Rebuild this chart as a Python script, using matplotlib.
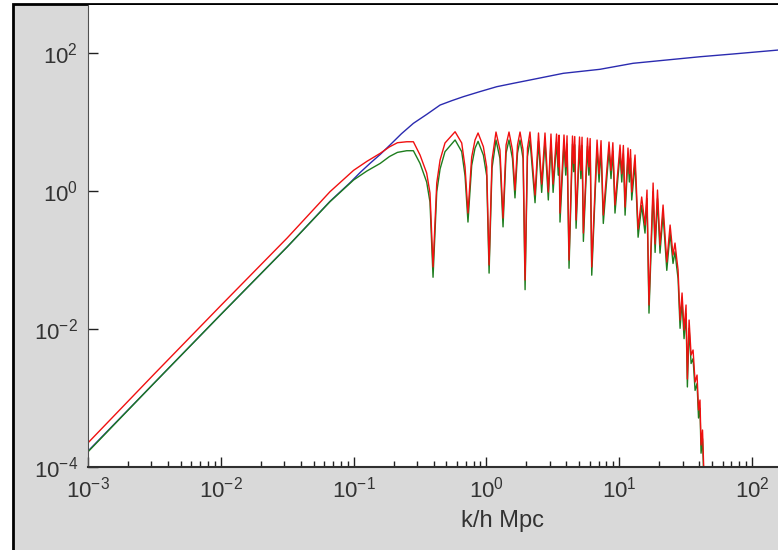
import numpy as np
import matplotlib
matplotlib.use("Agg")
import matplotlib.pyplot as plt
from matplotlib.patches import Rectangle
from matplotlib.ticker import LogLocator, NullLocator

plt.rcParams["font.family"] = ["Liberation Sans", "DejaVu Sans"]
plt.rcParams["mathtext.default"] = "regular"

# values, as log10(k) and log10(P)
log_k_blue = [-3.0, -2.5, -2.0, -1.5, -1.178, -1.027, -0.95, -0.877, -0.80, -0.726,
              -0.64, -0.55, -0.45, -0.349, -0.26, -0.174, -0.05, 0.078, 0.20, 0.328,
              0.579, 0.855, 1.104, 1.358, 1.608, 1.857, 2.196, 2.6, 3.0, 3.25]
log_p_blue = [-3.77, -2.78, -1.79, -0.81, -0.15, 0.12, 0.27, 0.40, 0.53, 0.667,
              0.83, 0.981, 1.11, 1.246, 1.31, 1.367, 1.44, 1.512, 1.56, 1.609,
              1.706, 1.764, 1.851, 1.899, 1.946, 1.986, 2.043, 2.09, 2.13, 2.15]

log_k_osc = [-3.00, -2.50, -2.00, -1.50, -1.178, -1.00, -0.90, -0.80, -0.73, -0.67, -0.60, -0.55, -0.50,
             -0.45, -0.425, -0.402, -0.374, -0.349, -0.312, -0.236, -0.186, -0.161, -0.139,
             -0.111, -0.086, -0.063, -0.023, 0.002, 0.020, 0.042, 0.072, 0.102, 0.125,
             0.148, 0.170, 0.196, 0.215, 0.234, 0.253, 0.276, 0.291, 0.309, 0.328,
             0.366, 0.392, 0.416, 0.441, 0.466, 0.486, 0.502, 0.528, 0.541,
             0.547, 0.554, 0.584, 0.597, 0.607, 0.622, 0.648, 0.657, 0.665, 0.675,
             0.701, 0.711, 0.720, 0.730, 0.761, 0.771, 0.781, 0.793, 0.833, 0.848,
             0.863, 0.880, 0.923, 0.938, 0.952, 0.968, 1.006, 1.019, 1.031, 1.044,
             1.066, 1.076, 1.085, 1.094, 1.119, 1.142, 1.169, 1.194, 1.209, 1.224,
             1.255, 1.270, 1.288, 1.307, 1.330, 1.358, 1.383, 1.405, 1.420, 1.433,
             1.443, 1.458, 1.473, 1.488, 1.503, 1.513, 1.526, 1.541, 1.556, 1.571,
             1.586, 1.597, 1.608, 1.616, 1.627, 1.639, 1.654]
log_p_red = [-3.65, -2.65, -1.66, -0.68, -0.01, 0.30, 0.43, 0.546, 0.64, 0.70, 0.714, 0.714, 0.522,
             0.261, -0.029, -1.101, 0.116, 0.449, 0.696, 0.859, 0.696, 0.348, -0.319,
             0.493, 0.739, 0.841, 0.642, 0.348, -1.072, 0.449, 0.855, 0.594, -0.391,
             0.667, 0.855, 0.594, 0.014, 0.667, 0.855, 0.594, -1.290, 0.623, 0.855,
             -0.058, 0.841, 0.101, 0.841, -0.014, 0.826, 0.101, 0.826, 0.35,
             0.81, -0.319, 0.812, 0.35, 0.80, -1.000, 0.797, 0.40, 0.79, -0.420,
             0.783, 0.30, 0.78, -0.609, 0.768, 0.35, 0.76, -1.101, 0.739, 0.25,
             0.73, -0.348, 0.710, 0.30, 0.70, -0.203, 0.667, 0.25, 0.66, -0.232,
             0.623, 0.25, 0.60, -0.014, 0.522, -0.551, -0.087, -0.493, 0.014, -1.652,
             0.116, -0.768, 0.014, -0.783, -0.203, -1.029, -0.493, -0.928, -0.754, -0.986,
             -1.145, -1.870, -1.478, -2.014, -1.652, -2.725, -1.870, -2.377, -2.304, -2.768,
             -2.667, -3.174, -3.029, -3.681, -3.464, -4.19, -4.77]
log_p_green = [-3.78, -2.78, -1.79, -0.81, -0.155, 0.16, 0.29, 0.40, 0.50, 0.56, 0.584, 0.584, 0.40,
               0.13, -0.16, -1.25, -0.01, 0.32, 0.57, 0.74, 0.57, 0.22, -0.45,
               0.37, 0.62, 0.72, 0.52, 0.22, -1.19, 0.33, 0.74, 0.47, -0.52,
               0.55, 0.74, 0.47, -0.10, 0.55, 0.74, 0.47, -1.43, 0.50, 0.74,
               -0.17, 0.72, -0.02, 0.72, -0.13, 0.71, -0.02, 0.71, 0.23,
               0.69, -0.45, 0.69, 0.23, 0.68, -1.12, 0.68, 0.28, 0.67, -0.54,
               0.66, 0.18, 0.66, -0.73, 0.65, 0.23, 0.64, -1.22, 0.62, 0.13,
               0.61, -0.47, 0.59, 0.18, 0.58, -0.32, 0.55, 0.13, 0.54, -0.35,
               0.50, 0.13, 0.48, -0.13, 0.40, -0.67, -0.21, -0.61, -0.11, -1.77,
               -0.01, -0.89, -0.11, -0.90, -0.33, -1.15, -0.61, -1.05, -0.88, -1.11,
               -1.27, -1.99, -1.60, -2.14, -1.78, -2.84, -1.99, -2.50, -2.43, -2.89,
               -2.79, -3.29, -3.15, -3.80, -3.59, -4.31, -4.89]

x_ticks = [1e-3, 1e-2, 1e-1, 1e0, 1e1, 1e2]
y_ticks = [1e-4, 1e-2, 1e0, 1e2]

k_blue = 10 ** np.array(log_k_blue)
p_blue = 10 ** np.array(log_p_blue)
k_osc = 10 ** np.array(log_k_osc)
p_red = 10 ** np.array(log_p_red)
p_green = 10 ** np.array(log_p_green)

W, H = 778, 550
fig = plt.figure(figsize=(W / 100, H / 100), dpi=100, facecolor="white")

# grey window with black frame on left and top
fig.add_artist(Rectangle((13 / W, -0.2), 1.3, 1.2 - 4 / H, transform=fig.transFigure,
                         facecolor="#d9d9d9", edgecolor="black", linewidth=2, zorder=-5))

# the axes run on past the right edge of the picture
ax = fig.add_axes([88 / W, 83 / H, (917 - 88) / W, (467 - 5) / H])
ax.set_facecolor("white")

ax.loglog(k_blue, p_blue, color="#2b2bb0", lw=1.0)
ax.loglog(k_osc, p_green, color="#1e7d1e", lw=1.0)
ax.loglog(k_osc, p_red, color="#f01010", lw=1.0)

ax.set_xlim(1e-3, 10 ** 3.242)
ax.set_ylim(1e-4, 10 ** 2.696)

ax.set_xticks(x_ticks)
ax.xaxis.set_minor_locator(LogLocator(base=10, subs=np.arange(2, 10), numticks=20))
ax.set_yticks(y_ticks)
ax.yaxis.set_minor_locator(NullLocator())

ax.tick_params(which="both", direction="in", top=False, right=False,
               colors="#202020", labelcolor="#333333", labelsize=16)
ax.tick_params(which="major", length=7, width=1)
ax.tick_params(which="minor", length=4, width=1)
ax.tick_params(axis="x", pad=7)
ax.tick_params(axis="y", pad=7)

for side in ["top", "right"]:
    ax.spines[side].set_visible(False)
ax.spines["left"].set_color("#505050")
ax.spines["bottom"].set_color("#303030")
ax.spines["bottom"].set_linewidth(1.5)

ax.set_xlabel("k/h Mpc", fontsize=17, color="#333333", labelpad=5)

fig.savefig("out.png", dpi=100, facecolor=fig.get_facecolor())
